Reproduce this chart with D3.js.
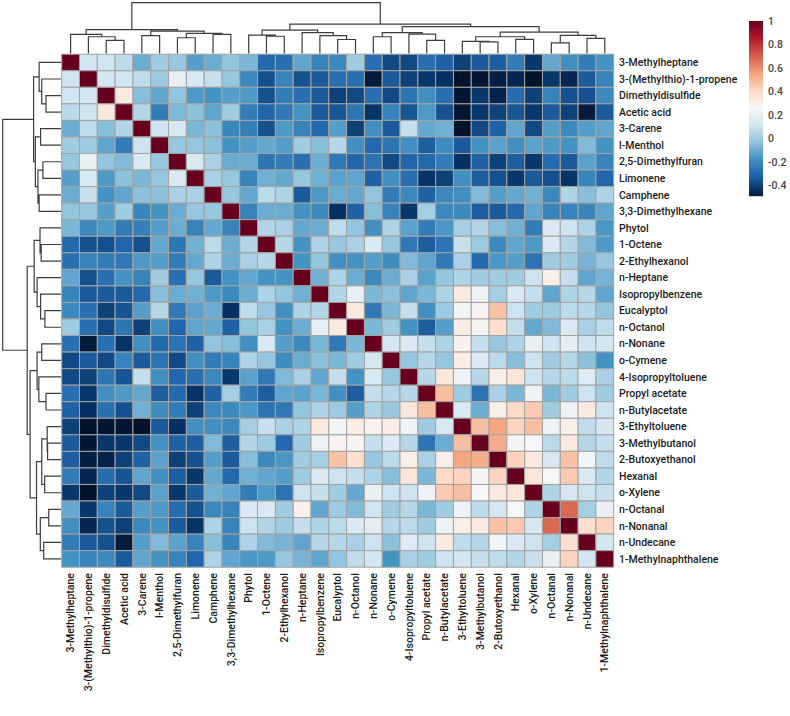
<!DOCTYPE html>
<html><head><meta charset="utf-8">
<script src="https://cdn.jsdelivr.net/npm/d3@7"></script>
<style>html,body{margin:0;padding:0;background:#fff}svg{display:block}
text{font-family:Roboto,sans-serif;fill:#1a1a1a}</style></head>
<body><svg id="c" width="790" height="716"></svg>
<script>
const compounds=["3-Methylheptane","3-(Methylthio)-1-propene","Dimethyldisulfide","Acetic acid","3-Carene","l-Menthol","2,5-Dimethylfuran","Limonene","Camphene","3,3-Dimethylhexane","Phytol","1-Octene","2-Ethylhexanol","n-Heptane","Isopropylbenzene","Eucalyptol","n-Octanol","n-Nonane","o-Cymene","4-Isopropyltoluene","Propyl acetate","n-Butylacetate","3-Ethyltoluene","3-Methylbutanol","2-Butoxyethanol","Hexanal","o-Xylene","n-Octanal","n-Nonanal","n-Undecane","1-Methylnaphthalene"];
// upper triangle of the correlation matrix; each row starts at its diagonal cell
const upperRows=[
[1,.11,.11,.06,-.10,0,-.02,-.14,-.10,-.03,-.07,-.30,-.28,-.12,-.22,-.20,0,-.28,-.38,-.38,-.28,-.32,-.40,-.34,-.33,-.24,-.42,-.11,-.18,-.24,-.17],
[1,.12,.11,.07,-.01,.20,.14,.09,-.02,-.20,-.36,-.22,-.36,-.34,-.28,-.28,-.49,-.34,-.40,-.42,-.44,-.52,-.50,-.48,-.46,-.52,-.42,-.46,-.34,-.22],
[1,.33,-.05,-.12,-.03,-.15,-.17,-.14,-.15,-.36,-.24,-.28,-.34,-.40,-.38,-.28,-.38,-.26,-.18,-.28,-.50,-.42,-.47,-.29,-.40,-.22,-.36,-.36,-.20],
[1,.04,-.24,-.06,-.04,-.12,0,-.24,-.31,-.25,-.17,-.34,-.35,-.26,-.43,-.22,-.35,-.15,-.36,-.50,-.42,-.40,-.35,-.42,-.34,-.40,-.49,-.34],
[1,.10,.14,-.07,-.04,-.21,-.23,-.36,-.15,-.22,-.30,-.14,-.40,-.18,-.34,.08,-.11,-.09,-.52,-.38,-.32,-.12,-.38,-.14,-.20,-.14,-.12],
[1,-.02,-.02,-.04,-.17,-.14,-.11,-.14,0,-.05,.05,-.18,-.30,-.26,-.18,-.33,-.19,-.34,-.17,-.13,-.18,-.13,-.15,-.17,-.06,-.17],
[1,.14,.02,-.10,-.10,-.26,-.24,-.28,-.10,-.25,-.31,-.27,-.38,-.31,-.30,-.24,-.44,-.32,-.40,-.33,-.42,-.29,-.34,-.13,-.22],
[1,.02,-.02,-.22,-.09,-.11,-.02,-.09,-.13,-.12,-.32,-.18,-.28,-.43,-.40,-.18,-.33,-.36,-.42,-.34,-.36,-.43,-.22,-.31],
[1,-.02,-.11,.06,.03,-.34,-.15,-.10,-.11,-.03,-.24,-.20,-.32,-.20,-.18,-.06,-.14,-.11,-.09,-.20,.03,-.05,.03],
[1,-.22,-.10,-.10,-.17,-.20,-.44,-.32,-.05,-.22,-.42,.01,-.20,-.20,-.33,-.34,-.30,-.12,-.22,-.22,-.21,-.12],
[1,.04,.02,-.11,-.10,.07,-.03,-.18,.03,-.13,-.24,-.16,.01,.04,-.05,-.09,-.24,.15,.10,.03,-.16],
[1,.05,-.17,.03,-.02,.02,.14,-.02,-.25,-.33,-.27,.09,-.01,-.20,-.12,-.15,.15,.04,-.06,-.15],
[1,-.17,-.03,-.18,-.17,-.14,-.19,-.06,-.12,-.25,.02,-.30,-.16,-.14,-.27,0,0,-.08,-.02],
[1,-.09,.03,-.10,-.20,-.10,.02,-.13,-.03,.03,0,0,0,.10,.30,.08,-.12,-.08],
[1,.04,.19,-.07,-.04,-.12,-.07,.03,.33,.22,.01,.14,.08,-.12,.03,.05,-.12],
[1,.33,-.25,-.07,.08,-.18,-.01,.24,.28,.47,.10,0,-.01,.06,.05,-.03],
[1,-.07,0,-.17,-.33,-.14,.31,.27,.38,.08,-.11,-.06,.15,.02,.07],
[1,.13,.14,.08,.03,.29,.08,-.02,.03,.20,.11,.18,.10,.12],
[1,-.02,.05,-.02,.31,.15,.06,-.05,.10,0,.05,-.04,-.17],
[1,.05,.34,.23,.05,.30,.35,.10,.05,.06,.16,.02],
[1,.48,0,-.27,.02,-.07,.22,-.07,0,.10,0],
[1,.14,-.10,.30,.40,.45,0,.22,.32,.10],
[1,.48,.55,.42,.48,.22,.30,.07,.12],
[1,.53,.27,.25,.06,.33,.05,.08],
[1,.42,.33,.13,.47,.24,.07],
[1,.35,.25,.45,.15,.04],
[1,.03,.13,.10,.09],
[1,.68,.01,.20],
[1,.38,.42],
[1,.12],
[1]];
// dendrogram as [height, left, right], leaves are compound indexes
const tree=[1,
 [.47,
  [.375,0,[.33,1,[.257,2,3]]],
  [.44,[.35,4,5],[.395,[.31,6,7],[.375,8,9]]]],
 [.58,
  [.46,[.36,10,[.34,11,12]],[.41,13,[.35,14,[.276,15,16]]]],
  [.53,
   [.41,[.33,17,18],[.38,19,[.257,20,21]]],
   [.42,
    [.33,[.237,22,[.23,23,24]],[.28,25,26]],
    [.355,[.21,27,28],[.296,29,30]]]]]];
const legendTicks=[1,.8,.6,.4,.2,0,-.2,-.4];
const colorDomain=[-.51,-.44,-.31,-.17,-.03,.11,.26,.40,.55,.70,.85,1];
const colorRange=["#04122c","#053061","#2166ac","#4393c3","#92c5de","#d1e5f0","#f7f7f7","#fddbc7","#f4a582","#d6604d","#b2182b","#67001f"];

const svg=d3.select("#c");
const color=d3.scaleLinear().domain(colorDomain).range(colorRange).clamp(true);
const n=compounds.length;
const x=d3.scaleBand().domain(d3.range(n)).range([61.7,613.7]);
const y=d3.scaleBand().domain(d3.range(n)).range([54.2,567.2]);
const val=(i,j)=>i<=j?upperRows[i][j-i]:upperRows[j][i-j];
const cells=d3.cross(d3.range(n),d3.range(n));
svg.append("g").selectAll("rect").data(cells).join("rect")
 .attr("x",d=>x(d[1])).attr("y",d=>y(d[0]))
 .attr("width",x.bandwidth()).attr("height",y.bandwidth())
 .attr("fill",d=>color(val(d[0],d[1])))
 .attr("stroke","#a3a3a3").attr("stroke-width",1);

svg.append("g").selectAll("text").data(compounds).join("text")
 .attr("x",619).attr("y",(d,i)=>y(i)+y.bandwidth()/2).attr("dy","0.35em")
 .attr("font-size",10.5).attr("font-weight",500).text(d=>d);
svg.append("g").selectAll("text").data(compounds).join("text")
 .attr("transform",(d,i)=>`translate(${x(i)+x.bandwidth()/2},573) rotate(-90)`)
 .attr("dy","0.35em").attr("text-anchor","end")
 .attr("font-size",10.5).attr("font-weight",500).text(d=>d);

// dendrograms
const topH=d3.scaleLinear().domain([0,1]).range([53.5,2.7]);
const leftH=d3.scaleLinear().domain([0,1]).range([61,2.7]);
function walk(node,pos,hs,path,horizontal){
 if(typeof node==="number") return {c:pos(node)+pos.bandwidth()/2,h:hs(0)};
 const a=walk(node[1],pos,hs,path,horizontal),b=walk(node[2],pos,hs,path,horizontal),h=hs(node[0]);
 const pt=(c,v)=>horizontal?[c,v]:[v,c];
 path.moveTo(...pt(a.c,a.h));path.lineTo(...pt(a.c,h));path.lineTo(...pt(b.c,h));path.lineTo(...pt(b.c,b.h));
 return {c:(a.c+b.c)/2,h};
}
const p1=d3.path();walk(tree,x,topH,p1,true);
const p2=d3.path();walk(tree,y,leftH,p2,false);
[p1,p2].forEach(p=>svg.append("path").attr("d",p.toString()).attr("fill","none").attr("stroke","#3d3d3d").attr("stroke-width",1.2));

// colour legend
const lg=d3.scaleLinear().domain([1,-.49]).range([21,196]);
svg.append("g").selectAll("rect").data(d3.range(lg.range()[0],lg.range()[1])).join("rect")
 .attr("x",749).attr("width",14).attr("y",d=>d).attr("height",1.2)
 .attr("fill",d=>color(lg.invert(d+.5)));
svg.append("g").selectAll("text").data(legendTicks).join("text")
 .attr("x",768).attr("y",d=>lg(d)).attr("dy","0.35em")
 .attr("font-size",10.5).attr("font-weight",500).style("fill","#444").text(d=>d);
</script></body></html>
